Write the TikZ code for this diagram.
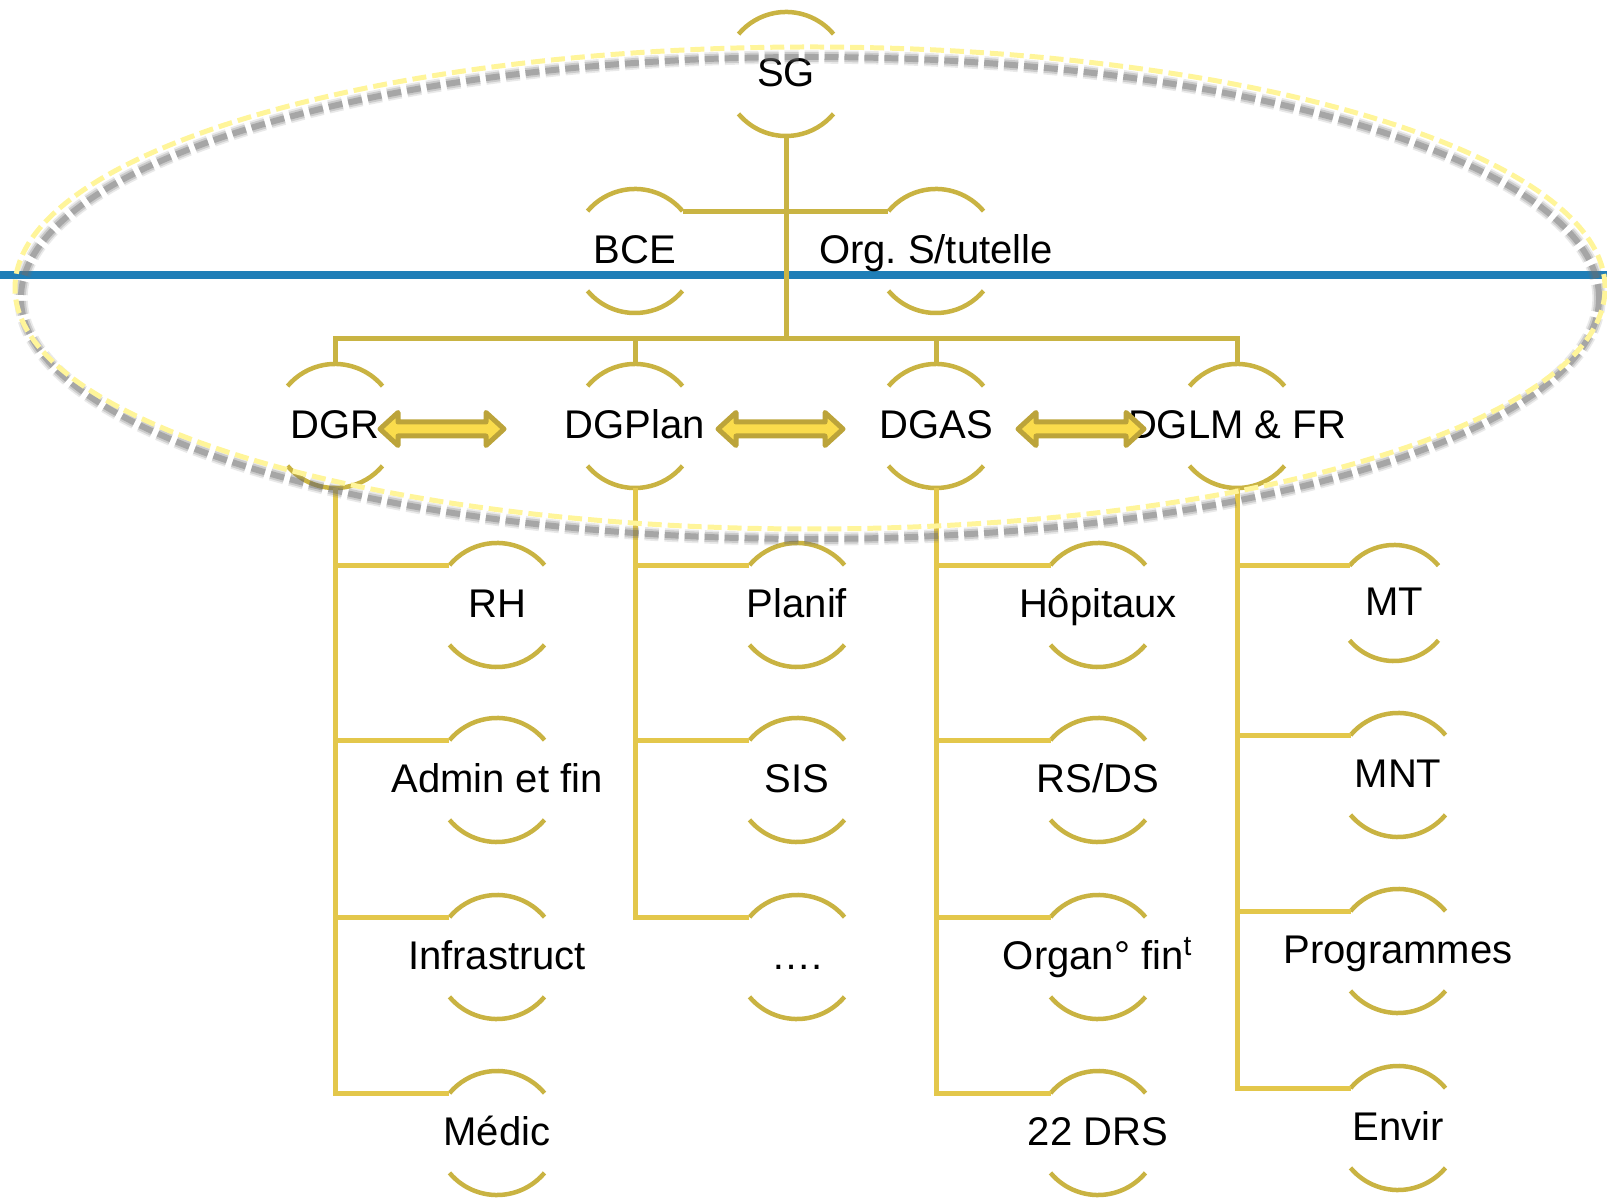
\documentclass[tikz,border=0pt]{standalone}
\usepackage{fontspec}
\setmainfont{Liberation Sans}
\frenchspacing
\newcommand{\zw}[1]{\makebox[0pt]{#1}}
\definecolor{arcgold}{HTML}{C9B342}
\definecolor{linegold}{HTML}{E3C74B}
\definecolor{trunkgold}{HTML}{C9B443}
\definecolor{arrowfill}{HTML}{FADC4C}
\definecolor{arrowedge}{HTML}{BCA43A}
\definecolor{rulecol}{HTML}{1F7EB7}
\definecolor{ringyellow}{HTML}{FFF59A}
\definecolor{ringshade}{HTML}{6E6E6E}

\begin{document}
\begin{tikzpicture}[x=0.01cm,y=0.01cm,
  unit/.style={circle, minimum size=1.24cm, inner sep=0pt, outer sep=0pt,
    font=\fontsize{11.38pt}{13pt}\selectfont,
    text height=0.2865cm, text depth=0.04cm},
  smallunit/.style={unit, minimum size=1.16cm},
  arcline/.style={draw=arcgold, line width=1.28pt},
  trunk/.style={draw=trunkgold, line width=1.42pt},
  branch/.style={draw=linegold, line width=1.42pt},
  arrowbody/.style={draw=arrowedge, fill=arrowfill, line width=1.42pt, line join=round},
  pics/dblarrow/.style={code={
    \draw[arrowbody] (0,0) -- (18,16.5) -- (18,7) -- (#1-18,7) -- (#1-18,16.5)
      -- (#1,0) -- (#1-18,-16.5) -- (#1-18,-7) -- (18,-7) -- (18,-16.5) -- cycle;}}
]
\useasboundingbox (0,0) rectangle (1607,1200);

% horizontal blue rule
\draw[rulecol, line width=2pt] (0,925) -- (1607,925);

% top of the tree
\node[unit] (sg)   at (786,1126) {\zw{SG}};
\node[unit] (bce)  at (635,949)  {\zw{BCE}};
\node[unit] (org)  at (936,949)  {\zw{Org. S/tutelle}};

% directorates
\node[unit] (dgr)    at (335,774)  {\zw{DGR}};
\node[unit] (dgplan) at (635,774)  {\zw{DGPlan}};
\node[unit] (dgas)   at (936,774)  {\zw{DGAS}};
\node[unit] (dglm)   at (1237,774) {\zw{DGLM \& FR}};

% services under DGR
\node[unit] (rh)    at (497,595) {\zw{RH}};
\node[unit] (admin) at (497,420) {\zw{Admin et fin}};
\node[unit] (infra) at (497,243) {\zw{Infrastruct}};
\node[unit] (medic) at (497,67)  {\zw{Médic}};

% services under DGPlan
\node[unit] (planif) at (797,595) {\zw{Planif}};
\node[unit] (sis)    at (797,420) {\zw{SIS}};
\node[unit] (dots)   at (797,243) {\zw{….}};

% services under DGAS
\node[unit] (hop)   at (1098,595) {\zw{Hôpitaux}};
\node[unit] (rsds)  at (1098,420) {\zw{RS/DS}};
\node[unit] (organ) at (1098,243) {\zw{Organ° fin\textsuperscript{t}}};
\node[unit] (drs)   at (1098,67)  {\zw{22 DRS}};

% services under DGLM & FR
\node[smallunit] (mt)  at (1394,597) {\zw{MT}};
\node[unit] (mnt)   at (1398,425) {\zw{MNT}};
\node[unit] (prog)  at (1398,249) {\zw{Programmes}};
\node[unit] (envir) at (1398,72)  {\zw{Envir}};

% half-circle brackets around every unit
\foreach \n/\r in {sg/62,bce/62,org/62,dgr/62,dgplan/62,dgas/62,dglm/62,
                   rh/62,admin/62,infra/62,medic/62,planif/62,sis/62,dots/62,
                   hop/62,rsds/62,organ/62,drs/62,mt/58,mnt/62,prog/62,envir/62}
  \draw[arcline] (\n.40) arc[start angle=40, end angle=140, radius=\r]
                 (\n.220) arc[start angle=220, end angle=320, radius=\r];

% upper connectors
\coordinate (bus) at (786,861);
\draw[trunk] (sg.south) -- (bus);
\draw[trunk] (bce.40) -- (org.140);
\draw[trunk] (dgr.north) |- (bus);
\draw[trunk] (dglm.north) |- (bus);
\draw[trunk] (dgplan.north) -- (dgplan.north |- bus);
\draw[trunk] (dgas.north) -- (dgas.north |- bus);

% branches to the services
\foreach \p/\c in {dgr/rh,dgr/admin,dgr/infra,dgr/medic,
                   dgplan/planif,dgplan/sis,dgplan/dots,
                   dgas/hop,dgas/rsds,dgas/organ,dgas/drs,
                   dglm/mt,dglm/mnt,dglm/prog,dglm/envir}
  \draw[branch] (\p.south) |- (\c.140);

% two-way arrows between directorates
\pic at (380,771)  {dblarrow=124};
\pic at (718,771)  {dblarrow=125};
\pic at (1018,771) {dblarrow=126};

% dashed ring with its soft shadow
\begin{scope}[dash pattern=on 3.98pt off 1.7pt]
  \draw[ringshade, opacity=0.15, line width=3.8pt] (810,902) ellipse[x radius=789, y radius=241];
  \draw[ringshade, opacity=0.25, line width=2.8pt] (810,902) ellipse[x radius=789, y radius=241];
  \draw[ringshade, opacity=0.4, line width=1.7pt] (810,902) ellipse[x radius=789, y radius=241];
  \draw[ringyellow, line width=1.42pt] (810,912) ellipse[x radius=795, y radius=241];
\end{scope}
\end{tikzpicture}
\end{document}
